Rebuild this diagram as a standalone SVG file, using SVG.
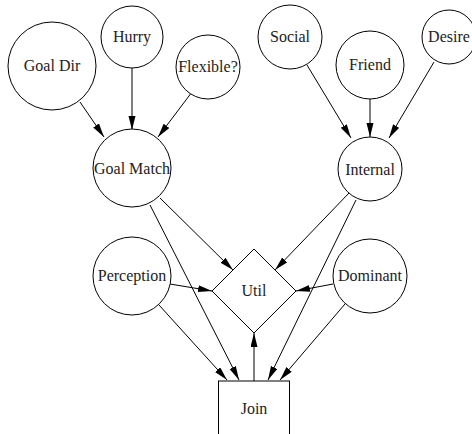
<svg xmlns="http://www.w3.org/2000/svg" width="472" height="434" viewBox="0 0 472 434">
<style>
.n{fill:#fff;stroke:#000;stroke-width:1}
.t{font-family:'Liberation Serif','Times New Roman',Times,serif;font-size:16px;fill:#222;text-anchor:middle}
.e{stroke:#000;stroke-width:1;fill:none;marker-end:url(#a)}
</style>
<defs>
<marker id="a" markerUnits="userSpaceOnUse" markerWidth="15" markerHeight="8" refX="14" refY="3.5" orient="auto">
<path d="M0,0 L14,3.5 L0,7 z" fill="#000"/>
</marker>
</defs>
<rect width="472" height="434" fill="#fff"/>
<g id="edges">
<line class="e" x1="80" y1="102" x2="104" y2="137"/>
<line class="e" x1="132" y1="68" x2="132" y2="130"/>
<line class="e" x1="192" y1="92" x2="158" y2="137"/>
<line class="e" x1="307" y1="65" x2="351" y2="138"/>
<line class="e" x1="370" y1="99" x2="370" y2="137"/>
<line class="e" x1="434" y1="62" x2="389" y2="138"/>
<line class="e" x1="160" y1="198" x2="233" y2="270"/>
<line class="e" x1="150" y1="205" x2="239" y2="380"/>
<line class="e" x1="349" y1="193" x2="275" y2="270"/>
<line class="e" x1="356" y1="200" x2="268" y2="380"/>
<line class="e" x1="170" y1="284" x2="212" y2="291"/>
<line class="e" x1="333" y1="284" x2="296" y2="291"/>
<line class="e" x1="159" y1="305" x2="227" y2="380"/>
<line class="e" x1="345" y1="304" x2="280" y2="380"/>
<line class="e" x1="254" y1="381" x2="254" y2="333"/>
</g>
<g font-family="'Liberation Serif', 'Times New Roman', serif">
<g id="goaldir"><circle class="n" cx="52" cy="66" r="44"/><text class="t" x="52" y="71">Goal Dir</text></g>
<g id="hurry"><circle class="n" cx="132" cy="37" r="31"/><text class="t" x="132" y="42">Hurry</text></g>
<g id="flexible"><circle class="n" cx="208" cy="67" r="32"/><text class="t" x="208" y="72">Flexible?</text></g>
<g id="goalmatch"><circle class="n" cx="132" cy="168" r="39"/><text class="t" x="132" y="173.5">Goal Match</text></g>
<g id="social"><circle class="n" cx="290" cy="37" r="32"/><text class="t" x="290" y="42">Social</text></g>
<g id="friend"><circle class="n" cx="370" cy="65" r="34"/><text class="t" x="370" y="70">Friend</text></g>
<g id="desire"><circle class="n" cx="449" cy="37" r="27"/><text class="t" x="449" y="42">Desire</text></g>
<g id="internal"><circle class="n" cx="370" cy="169" r="32"/><text class="t" x="370" y="174.5">Internal</text></g>
<g id="perception"><circle class="n" cx="132" cy="276" r="39"/><text class="t" x="132" y="281">Perception</text></g>
<g id="dominant"><circle class="n" cx="370" cy="276" r="37"/><text class="t" x="370" y="281">Dominant</text></g>
<g id="util"><polygon class="n" points="254,249 296,291 254,333 212,291"/><text class="t" x="254" y="296">Util</text></g>
<g id="join"><rect class="n" x="218.5" y="381" width="71" height="60"/><text class="t" x="254" y="414">Join</text></g>
</g>
</svg>
